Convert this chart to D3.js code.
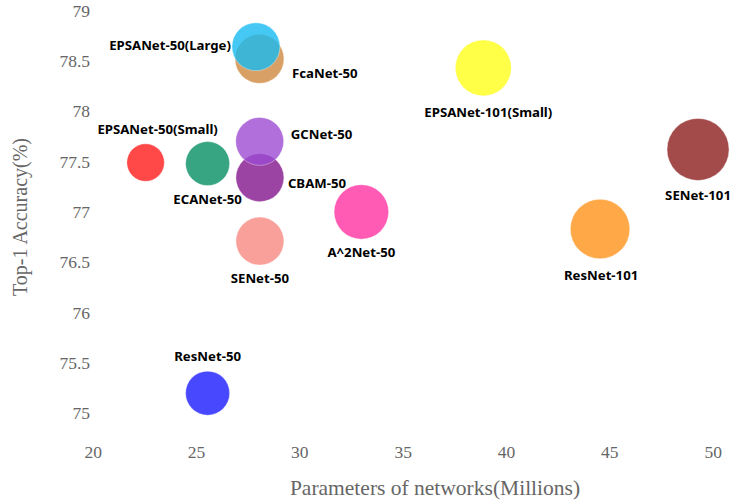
<!DOCTYPE html>
<html>
<head>
<meta charset="utf-8">
<script src="https://cdn.jsdelivr.net/npm/d3@7/dist/d3.min.js"></script>
<style>
  html, body { margin: 0; padding: 0; background: #fff; }
  svg { display: block; }
</style>
</head>
<body>
<svg id="chart" width="731" height="502"></svg>
<script>
// ---- data ----
const models = ["FcaNet-50", "EPSANet-50(Large)", "EPSANet-50(Small)", "ECANet-50", "CBAM-50", "GCNet-50",
                "SENet-50", "A^2Net-50", "EPSANet-101(Small)", "SENet-101", "ResNet-101", "ResNet-50"];
const params   = [28.07, 27.90, 22.56, 25.56, 28.09, 28.08, 28.09, 33.00, 38.90, 49.29, 44.55, 25.56];
const accuracy = [78.52, 78.64, 77.49, 77.48, 77.34, 77.70, 76.71, 77.00, 78.43, 77.62, 76.83, 75.20];
const bubbleSize = [49, 48, 37.5, 44, 48, 48, 48, 54.5, 56, 62, 59.5, 44];
const xTicks = [20, 25, 30, 35, 40, 45, 50];
const yTicks = [75, 75.5, 76, 76.5, 77, 77.5, 78, 78.5, 79];
const xTitle = "Parameters of networks(Millions)";
const yTitle = "Top-1 Accuracy(%)";

// ---- style ----
const colors = ["#d08840", "#18baf3", "#ff1a1a", "#058d63", "#82158d", "#9c4bd2",
                "#f78881", "#ff31a1", "#ffff1a", "#8c1d1d", "#ff921a", "#1a1aff"];
// label placement: [side, dx, dy]
const labelPlace = [
  ["right", 8, 14.5], ["left", -1, -2], ["top", 12, 0], ["bottom", 0, -1], ["right", 4, 5.4], ["right", 7, -7],
  ["bottom", 0, -1.3], ["bottom", 0, -1.3], ["bottom", 5, 2], ["bottom", 0, 0.5], ["bottom", 1, 2], ["top", 0, 0]
];

const svg = d3.select("#chart");
const x = d3.scaleLinear().domain([20, 50]).range([92.7, 712.7]);
const y = d3.scaleLinear().domain([75, 79]).range([413.3, 10.5]);
const rScale = d3.scaleLinear().domain([0, 100]).range([0, 50]);

// axes (no lines, labels only)
const xAxis = d3.axisBottom(x).tickValues(xTicks).tickSize(0).tickPadding(0).tickFormat(d3.format("d"));
const gx = svg.append("g").attr("transform", "translate(0,446)").call(xAxis);
gx.select(".domain").remove();
gx.selectAll("text").attr("dy", "0.71em");

const yAxis = d3.axisLeft(y).tickValues(yTicks).tickSize(0).tickPadding(0).tickFormat(d => d3.format("")(d));
const gy = svg.append("g").attr("transform", "translate(90,0)").call(yAxis);
gy.select(".domain").remove();

svg.selectAll(".tick text")
  .attr("font-family", "'Liberation Serif', 'Times New Roman', serif")
  .attr("font-size", 17.5)
  .attr("fill", "#666");

svg.append("text")
  .attr("x", 435).attr("y", 488)
  .attr("text-anchor", "middle").attr("dominant-baseline", "central")
  .attr("font-family", "'Liberation Serif', 'Times New Roman', serif")
  .attr("font-size", 21.5).attr("fill", "#666")
  .text(xTitle);

svg.append("text")
  .attr("transform", "translate(20,217) rotate(-90)")
  .attr("text-anchor", "middle").attr("dominant-baseline", "central")
  .attr("font-family", "'Liberation Serif', 'Times New Roman', serif")
  .attr("font-size", 20).attr("fill", "#666")
  .text(yTitle);

const data = models.map((m, i) => ({ name: m, x: params[i], y: accuracy[i], s: bubbleSize[i], c: colors[i], lp: labelPlace[i] }));

svg.append("g").selectAll("circle").data(data).join("circle")
  .attr("cx", d => x(d.x))
  .attr("cy", d => y(d.y))
  .attr("r", d => rScale(d.s))
  .attr("fill", d => d.c)
  .attr("fill-opacity", 0.8)
  .attr("stroke", "#fff")
  .attr("stroke-opacity", 0.35)
  .attr("stroke-width", 1);

svg.append("g").selectAll("text").data(data).join("text")
  .attr("font-family", "'Noto Sans', 'DejaVu Sans', sans-serif")
  .attr("font-weight", "bold")
  .attr("font-size", 13.2)
  .attr("fill", "#000")
  .attr("dominant-baseline", "central")
  .attr("text-anchor", d => d.lp[0] === "left" ? "end" : d.lp[0] === "right" ? "start" : "middle")
  .attr("x", d => {
    const cx = x(d.x), r = rScale(d.s);
    if (d.lp[0] === "left") return cx - r + d.lp[1];
    if (d.lp[0] === "right") return cx + r + d.lp[1];
    return cx + d.lp[1];
  })
  .attr("y", d => {
    const cy = y(d.y), r = rScale(d.s);
    if (d.lp[0] === "top") return cy - r - 15 + d.lp[2];
    if (d.lp[0] === "bottom") return cy + r + 14 + d.lp[2];
    return cy + d.lp[2];
  })
  .text(d => d.name);
</script>
</body>
</html>
